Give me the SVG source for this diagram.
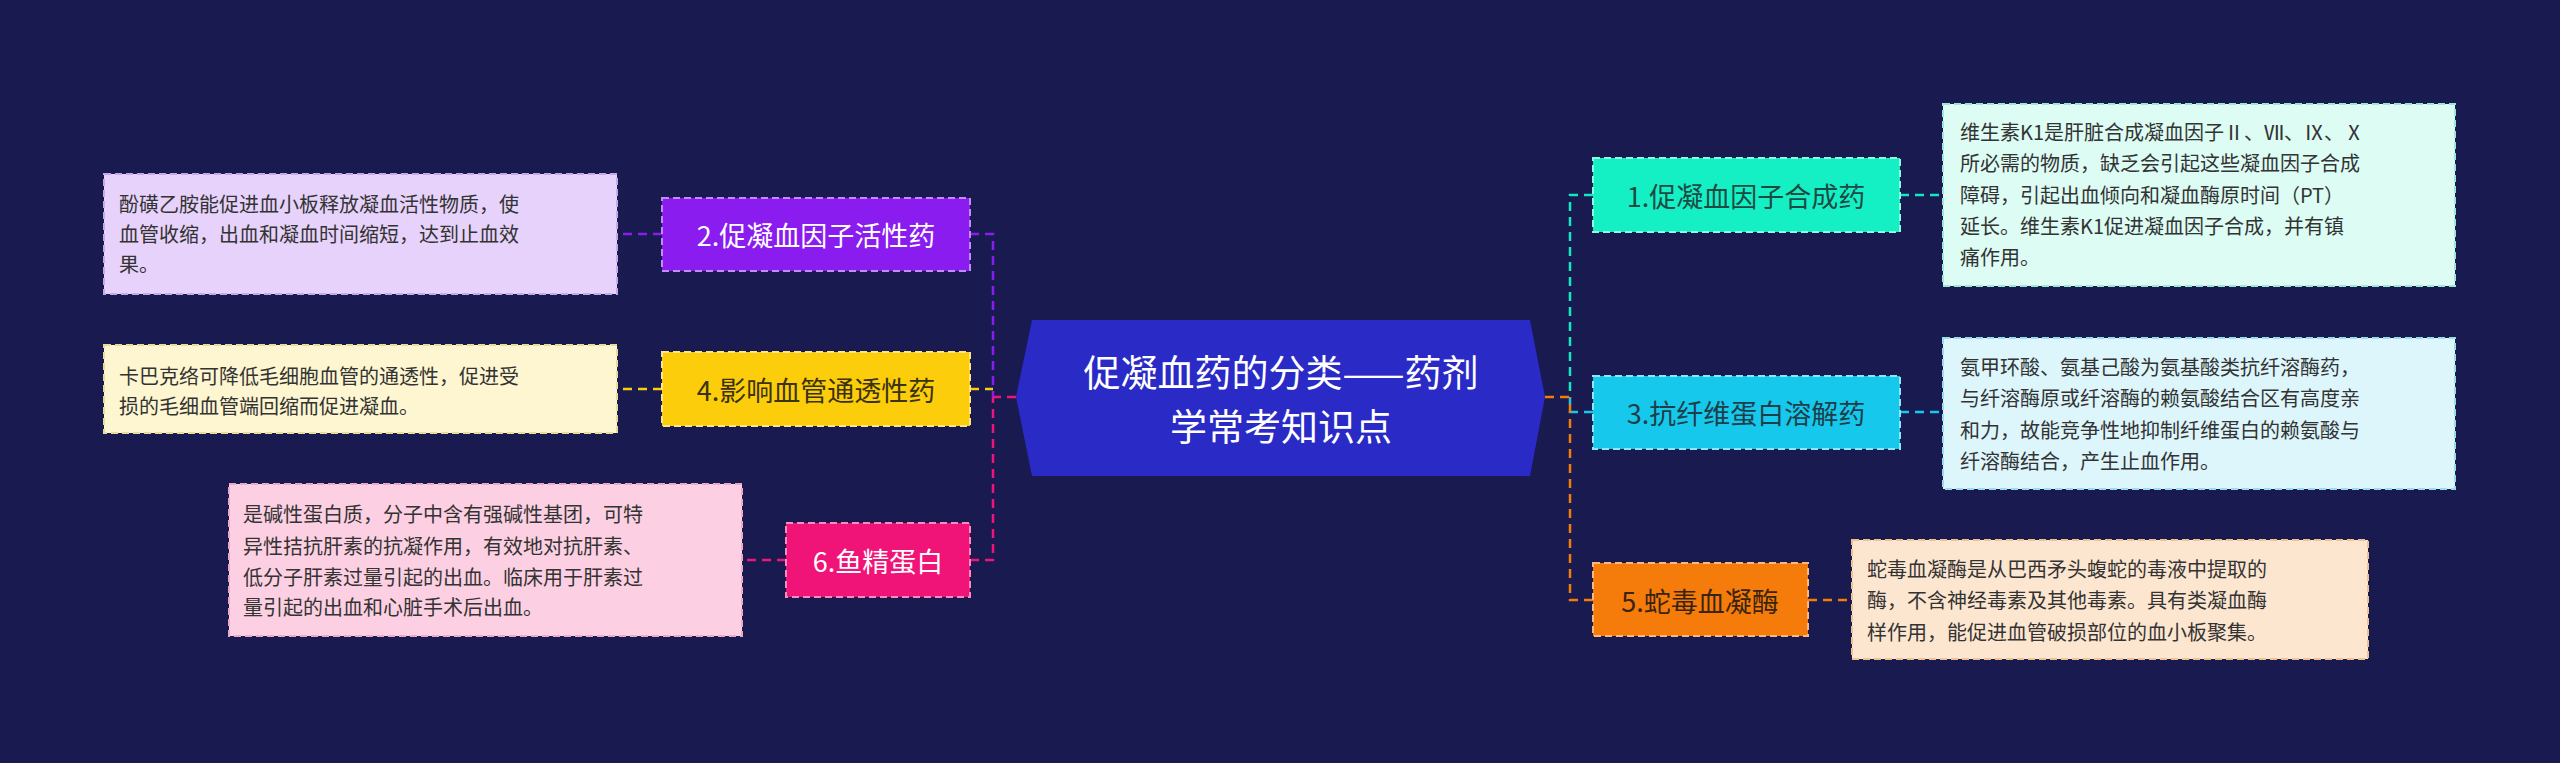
<svg xmlns="http://www.w3.org/2000/svg" width="2560" height="763" viewBox="0 0 2560 763">
<style>
text{font-family:"Noto Sans CJK SC","Noto Sans",sans-serif}
.d{font-size:20px;fill:#333}
.n{font-size:27px;text-anchor:middle;dominant-baseline:central}
.c{fill:none;stroke-width:2.5;stroke-dasharray:9 6}
.b{stroke-width:2;stroke-dasharray:7 4}
</style>
<rect width="2560" height="763" fill="#191a50"/>
<g id="connectors">
<path class="c" stroke="#f01478" d="M1016 397H993"/>
<path class="c" stroke="#f57c0a" d="M1545 397H1570"/>
<path class="c" stroke="#8a1cf0" d="M970 234H993V397"/>
<path class="c" stroke="#fccd0a" d="M970 389H993"/>
<path class="c" stroke="#f01478" d="M970 560H993V397"/>
<path class="c" stroke="#14e8c0" d="M1593 195H1570V397"/>
<path class="c" stroke="#16c8ec" d="M1593 412H1570V397"/>
<path class="c" stroke="#f57c0a" d="M1593 600H1570V397"/>
<path class="c" stroke="#8a1cf0" d="M662 234H617"/>
<path class="c" stroke="#fccd0a" d="M662 389H617"/>
<path class="c" stroke="#f01478" d="M786 560H742"/>
<path class="c" stroke="#14e8c0" d="M1900 195H1943"/>
<path class="c" stroke="#16c8ec" d="M1900 412H1943"/>
<path class="c" stroke="#f57c0a" d="M1808 600H1852"/>
</g>
<g id="center">
<polygon points="1032,320 1530,320 1545,397 1530,476 1032,476 1016,397" fill="#2a2ac6"/>
<text x="1281" y="371" font-size="37" fill="#fff" text-anchor="middle" dominant-baseline="central">促凝血药的分类——药剂</text>
<text x="1281" y="425" font-size="37" fill="#fff" text-anchor="middle" dominant-baseline="central">学常考知识点</text>
</g>
<g id="n1"><rect class="b" x="1593" y="158" width="307" height="74" fill="#14f0c4" stroke="#8ff8e0"/><text class="n" x="1746" y="195" fill="#1e4a44">1.促凝血因子合成药</text></g>
<g id="d1"><rect class="b" x="1943" y="104" width="512" height="182" fill="#dcfcf4" stroke="#9be8d8"/>
<text class="d" x="1960" y="140">维生素K1是肝脏合成凝血因子Ⅱ、Ⅶ、Ⅸ、Ⅹ</text>
<text class="d" x="1960" y="171">所必需的物质，缺乏会引起这些凝血因子合成</text>
<text class="d" x="1960" y="203">障碍，引起出血倾向和凝血酶原时间（PT）</text>
<text class="d" x="1960" y="234">延长。维生素K1促进凝血因子合成，并有镇</text>
<text class="d" x="1960" y="265">痛作用。</text></g>
<g id="n3"><rect class="b" x="1593" y="376" width="307" height="73" fill="#16c8ec" stroke="#8ee6f8"/><text class="n" x="1746" y="412" fill="#1e3e4a">3.抗纤维蛋白溶解药</text></g>
<g id="d3"><rect class="b" x="1943" y="338" width="512" height="151" fill="#dcf6fc" stroke="#9adcec"/>
<text class="d" x="1960" y="375">氨甲环酸、氨基己酸为氨基酸类抗纤溶酶药，</text>
<text class="d" x="1960" y="406">与纤溶酶原或纤溶酶的赖氨酸结合区有高度亲</text>
<text class="d" x="1960" y="438">和力，故能竞争性地抑制纤维蛋白的赖氨酸与</text>
<text class="d" x="1960" y="469">纤溶酶结合，产生止血作用。</text></g>
<g id="n5"><rect class="b" x="1593" y="563" width="215" height="73" fill="#f57c0a" stroke="#f9b880"/><text class="n" x="1700" y="600" fill="#3a2410">5.蛇毒血凝酶</text></g>
<g id="d5"><rect class="b" x="1852" y="540" width="516" height="119" fill="#fde6d0" stroke="#f0c090"/>
<text class="d" x="1867" y="577">蛇毒血凝酶是从巴西矛头蝮蛇的毒液中提取的</text>
<text class="d" x="1867" y="608">酶，不含神经毒素及其他毒素。具有类凝血酶</text>
<text class="d" x="1867" y="640">样作用，能促进血管破损部位的血小板聚集。</text></g>
<g id="n2"><rect class="b" x="662" y="198" width="308" height="73" fill="#8a1cf0" stroke="#c08cf8"/><text class="n" x="816" y="234" fill="#fff">2.促凝血因子活性药</text></g>
<g id="d2"><rect class="b" x="104" y="174" width="513" height="120" fill="#e6d2fa" stroke="#c4a8e8"/>
<text class="d" x="119" y="212">酚磺乙胺能促进血小板释放凝血活性物质，使</text>
<text class="d" x="119" y="242">血管收缩，出血和凝血时间缩短，达到止血效</text>
<text class="d" x="119" y="272">果。</text></g>
<g id="n4"><rect class="b" x="662" y="352" width="308" height="74" fill="#fccd0a" stroke="#fce48a"/><text class="n" x="816" y="389" fill="#3a3210">4.影响血管通透性药</text></g>
<g id="d4"><rect class="b" x="104" y="345" width="513" height="88" fill="#fdf6d0" stroke="#e8dc98"/>
<text class="d" x="119" y="384">卡巴克络可降低毛细胞血管的通透性，促进受</text>
<text class="d" x="119" y="414">损的毛细血管端回缩而促进凝血。</text></g>
<g id="n6"><rect class="b" x="786" y="523" width="184" height="74" fill="#f01478" stroke="#f88cbc"/><text class="n" x="878" y="560" fill="#fff">6.鱼精蛋白</text></g>
<g id="d6"><rect class="b" x="229" y="484" width="513" height="152" fill="#fcd0e2" stroke="#eca8c4"/>
<text class="d" x="243" y="522">是碱性蛋白质，分子中含有强碱性基团，可特</text>
<text class="d" x="243" y="554">异性拮抗肝素的抗凝作用，有效地对抗肝素、</text>
<text class="d" x="243" y="585">低分子肝素过量引起的出血。临床用于肝素过</text>
<text class="d" x="243" y="615">量引起的出血和心脏手术后出血。</text></g>
</svg>
